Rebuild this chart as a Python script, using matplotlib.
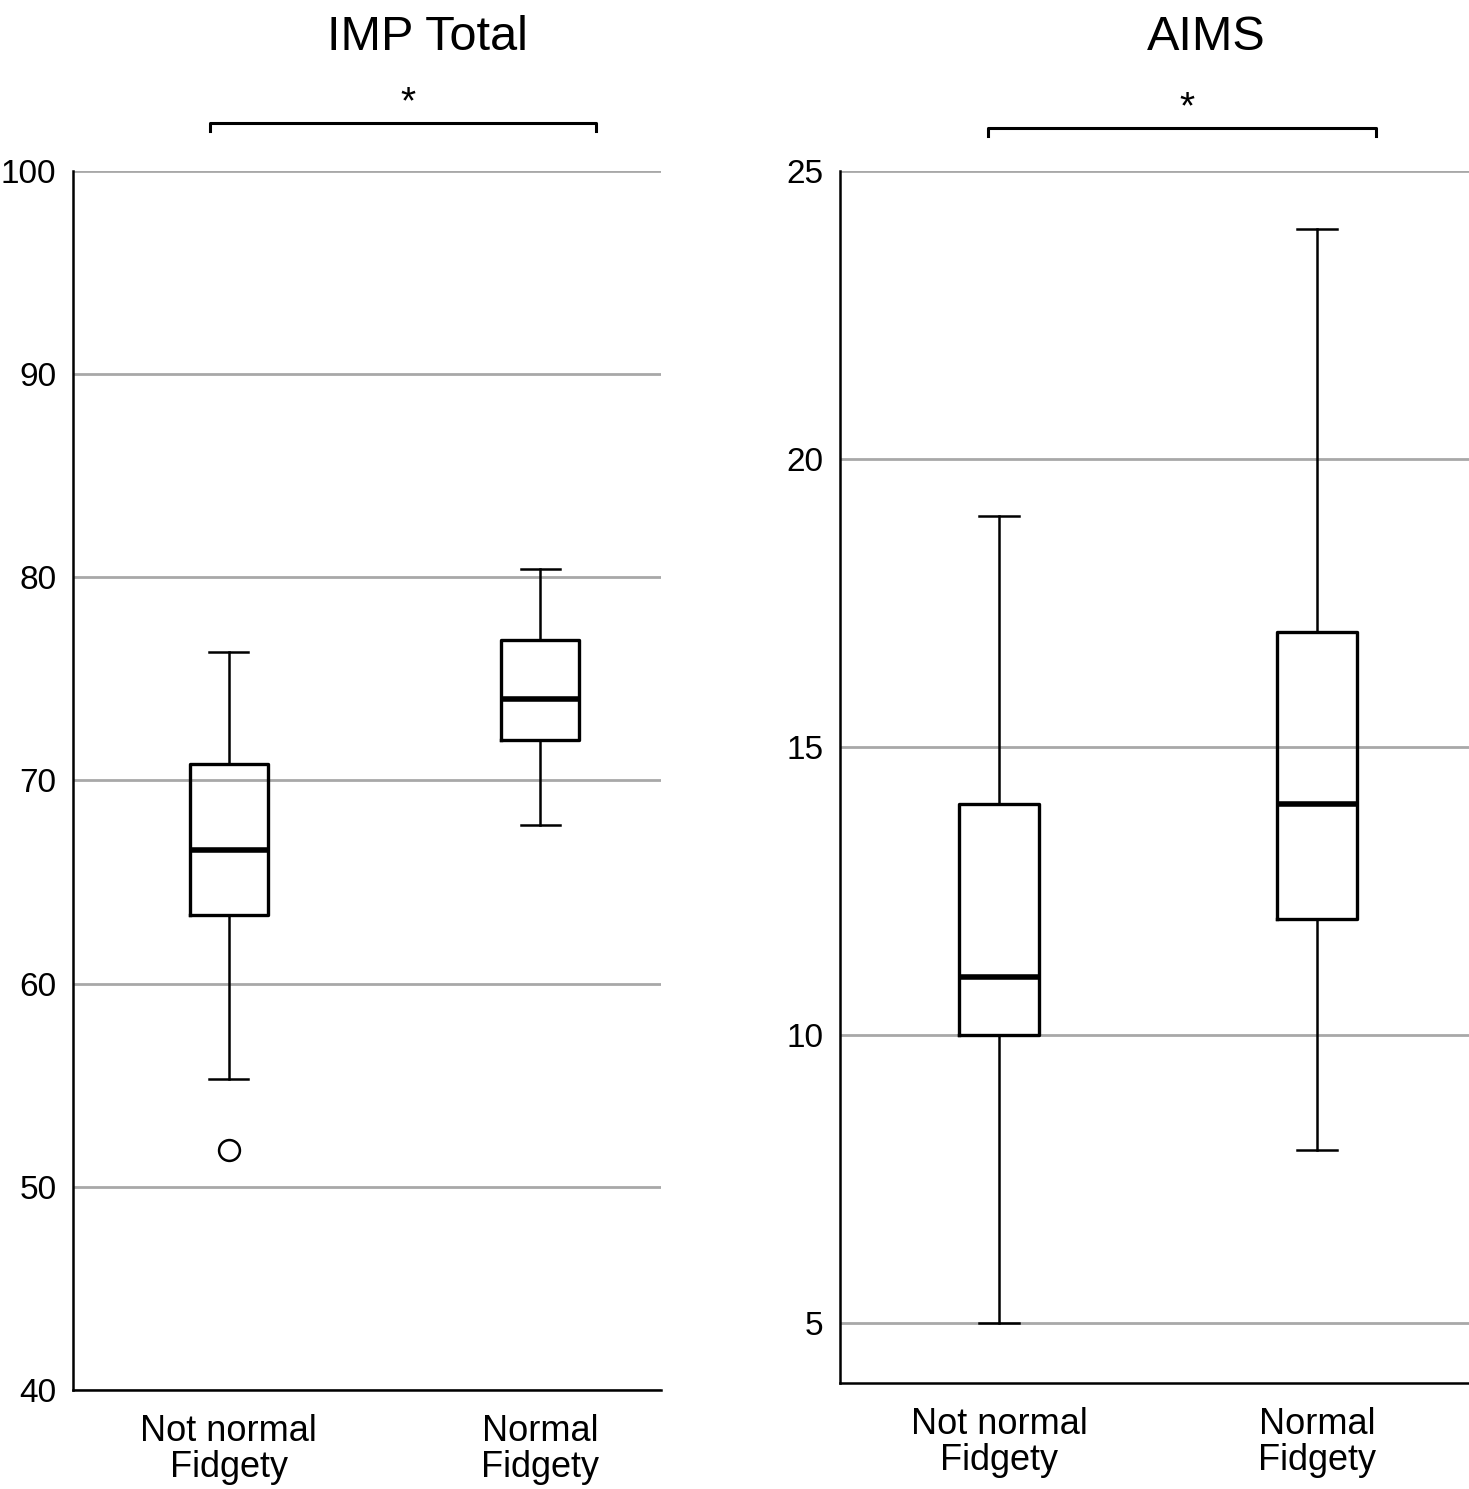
import matplotlib
matplotlib.use("Agg")
import matplotlib.pyplot as plt

plt.rcParams['font.family'] = ['Liberation Sans', 'DejaVu Sans']

categories = ["Not normal\nFidgety", "Normal\nFidgety"]

# IMP Total
imp_whislo = [55.3, 67.8]
imp_q1 = [63.4, 72.0]
imp_med = [66.6, 74.0]
imp_q3 = [70.8, 76.9]
imp_whishi = [76.3, 80.4]
imp_fliers = [[51.8], []]
imp_ticks = [40, 50, 60, 70, 80, 90, 100]

# AIMS
aims_whislo = [5.0, 8.0]
aims_q1 = [10.0, 12.0]
aims_med = [11.0, 14.0]
aims_q3 = [14.0, 17.0]
aims_whishi = [19.0, 24.0]
aims_fliers = [[], []]
aims_ticks = [5, 10, 15, 20, 25]


def make_stats(lo, q1, med, q3, hi, fl):
    return [dict(whislo=lo[i], q1=q1[i], med=med[i], q3=q3[i], whishi=hi[i],
                 fliers=fl[i], label=categories[i]) for i in range(len(lo))]


fig = plt.figure(figsize=(14.69, 14.89), dpi=100)
ax1 = fig.add_axes([0.0497, 0.0665, 0.4003, 0.8187])
ax2 = fig.add_axes([0.5718, 0.0712, 0.4282, 0.8140])


def style(ax, stats, ylim, xlim, ticks):
    ax.bxp(stats, positions=[1, 2], widths=0.25, showfliers=True,
           boxprops=dict(color='black', linewidth=2.4),
           medianprops=dict(color='black', linewidth=4.0),
           whiskerprops=dict(color='black', linewidth=1.8),
           capprops=dict(color='black', linewidth=1.8),
           flierprops=dict(marker='o', markersize=15, markerfacecolor='white',
                           markeredgecolor='black', markeredgewidth=1.8))
    ax.set_ylim(*ylim)
    ax.set_xlim(*xlim)
    ax.set_yticks(ticks)
    ax.yaxis.grid(True, color='#a8a8a8', linewidth=2.0)
    ax.set_axisbelow(True)
    for s in ['top', 'right']:
        ax.spines[s].set_visible(False)
    for s in ['left', 'bottom']:
        ax.spines[s].set_linewidth(1.8)
        ax.spines[s].set_color('black')
    ax.tick_params(axis='y', length=0, pad=12, labelsize=24)
    ax.tick_params(axis='x', length=0, pad=17, labelsize=26)
    for lab in ax.get_xticklabels():
        lab.set_linespacing(1.05)


style(ax1, make_stats(imp_whislo, imp_q1, imp_med, imp_q3, imp_whishi, imp_fliers),
      (40, 100), (0.5, 2.388), imp_ticks)
style(ax2, make_stats(aims_whislo, aims_q1, aims_med, aims_q3, aims_whishi, aims_fliers),
      (3.95, 25), (0.5, 2.478), aims_ticks)

# significance brackets
ax1.plot([0.94, 0.94, 2.18, 2.18], [101.97, 102.36, 102.36, 101.97],
         color='black', linewidth=2.2, clip_on=False)
ax1.text(1.574, 102.45, '*', ha='center', va='bottom', fontsize=28)
ax2.plot([0.965, 0.965, 2.186, 2.186], [25.61, 25.75, 25.75, 25.61],
         color='black', linewidth=2.2, clip_on=False)
ax2.text(1.59, 25.78, '*', ha='center', va='bottom', fontsize=28)

fig.text(0.2907, 0.975, 'IMP Total', ha='center', va='center', fontsize=35)
fig.text(0.821, 0.975, 'AIMS', ha='center', va='center', fontsize=35)

fig.savefig('out.png', dpi=100, facecolor='white')
